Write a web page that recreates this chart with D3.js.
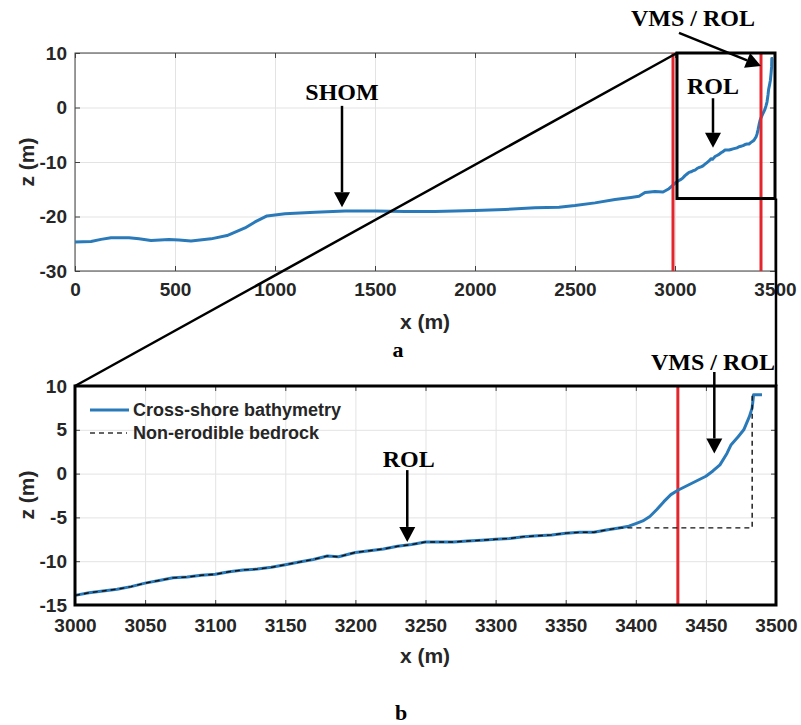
<!DOCTYPE html>
<html>
<head>
<meta charset="utf-8">
<script src="https://cdn.jsdelivr.net/npm/d3@7"></script>
<style>
  body { margin: 0; background: #fff; }
  .tick text { font-family: "Liberation Sans", Arial, sans-serif; font-weight: bold; font-size: 19px; fill: #262626; }
  .grid line { stroke: #e3e3e3; stroke-width: 1; }
  .grid path { display: none; }
</style>
</head>
<body>
<svg id="fig" width="801" height="725"></svg>
<script>
// SHOM profile, offshore part (0 - 3000 m)
var shomX = [0, 80, 130, 180, 270, 320, 380, 470, 520, 580, 680, 760, 850, 900, 960, 1050, 1200, 1350, 1500, 1650, 1800, 2000, 2150, 2300, 2420, 2500, 2600, 2700, 2780, 2820, 2850, 2900, 2940, 2970];
var shomZ = [-24.7, -24.6, -24.2, -23.9, -23.9, -24.1, -24.4, -24.2, -24.3, -24.5, -24.1, -23.5, -22.1, -21.0, -19.9, -19.5, -19.2, -19.0, -19.0, -19.1, -19.1, -18.9, -18.7, -18.4, -18.3, -18.0, -17.5, -16.9, -16.5, -16.3, -15.6, -15.4, -15.5, -14.9];

// ROL / VMS nearshore part (3000 - 3490 m)
var rolX = [3000, 3010, 3020, 3030, 3040, 3050, 3060, 3070, 3080, 3090, 3100, 3110, 3120, 3130, 3140, 3150, 3160, 3170, 3180, 3188, 3195, 3200, 3210, 3220, 3230, 3240, 3250, 3260, 3270, 3280, 3290, 3300, 3310, 3320, 3330, 3340, 3350, 3360, 3370, 3380, 3388, 3395, 3400, 3405, 3410, 3415, 3420, 3425, 3430, 3435, 3440, 3445, 3450, 3455, 3460, 3465, 3468, 3473, 3477, 3481, 3483, 3484, 3490];
var rolZ = [-13.9, -13.6, -13.4, -13.2, -12.9, -12.5, -12.2, -11.9, -11.8, -11.6, -11.5, -11.2, -11.0, -10.9, -10.7, -10.4, -10.1, -9.8, -9.4, -9.5, -9.2, -9.0, -8.8, -8.6, -8.3, -8.1, -7.8, -7.8, -7.8, -7.7, -7.6, -7.5, -7.4, -7.2, -7.1, -7.0, -6.8, -6.7, -6.7, -6.4, -6.2, -6.0, -5.7, -5.4, -4.9, -4.1, -3.2, -2.4, -1.9, -1.5, -1.1, -0.7, -0.3, 0.3, 1.0, 2.3, 3.3, 4.2, 5.0, 6.5, 7.5, 9.0, 9.0];

// non-erodible bedrock: same as profile offshore of bedrockStart, then these points
var bedrockStart = 3388;
var bedrockTailX = [3388, 3483, 3483];
var bedrockTailZ = [-6.2, -6.2, 9.0];

var redLinesTop = [2990, 3430];
var redLinesBottom = [3430];
var zoomBox = {x0: 3010, x1: 3500, z0: -16.7, z1: 10};

var topXTicks = [0, 500, 1000, 1500, 2000, 2500, 3000, 3500];
var topYTicks = [-30, -20, -10, 0, 10];
var botXTicks = [3000, 3050, 3100, 3150, 3200, 3250, 3300, 3350, 3400, 3450, 3500];
var botYTicks = [-15, -10, -5, 0, 5, 10];

var blue = "#2a7ab9", red = "#e3262b";
var fmt = function(d) { return String(d); };

var svg = d3.select("#fig");
svg.append("rect").attr("width", 801).attr("height", 725).attr("fill", "#fff");

var xa = d3.scaleLinear().domain([0, 3500]).range([75, 775]);
var ya = d3.scaleLinear().domain([-30, 10]).range([271, 53]);
var xb = d3.scaleLinear().domain([3000, 3500]).range([75, 776]);
var yb = d3.scaleLinear().domain([-15, 10]).range([605, 386]);

var profile = shomX.map(function(x, i) { return [x, shomZ[i]]; })
  .concat(rolX.map(function(x, i) { return [x, rolZ[i]]; }));
var nearshore = rolX.map(function(x, i) { return [x, rolZ[i]]; });
var bedrock = nearshore.filter(function(d) { return d[0] < bedrockStart; })
  .concat(bedrockTailX.map(function(x, i) { return [x, bedrockTailZ[i]]; }));

function panel(x, y, xt, yt, padX) {
  var g = svg.append("g");
  var x0 = x.range()[0], x1 = x.range()[1], y0 = y.range()[1], y1 = y.range()[0];
  g.append("g").attr("class", "grid").attr("transform", "translate(0," + y1 + ")")
    .call(d3.axisBottom(x).tickValues(xt).tickSize(-(y1 - y0)).tickFormat(""));
  g.append("g").attr("class", "grid").attr("transform", "translate(" + x0 + ",0)")
    .call(d3.axisLeft(y).tickValues(yt).tickSize(-(x1 - x0)).tickFormat(""));
  var ax = g.append("g").attr("class", "ax").attr("transform", "translate(0," + y1 + ")")
    .call(d3.axisBottom(x).tickValues(xt).tickSize(-5).tickPadding(padX).tickFormat(fmt));
  var ay = g.append("g").attr("class", "ax").attr("transform", "translate(" + x0 + ",0)")
    .call(d3.axisLeft(y).tickValues(yt).tickSize(-5).tickPadding(8).tickFormat(fmt));
  // right and top inner ticks
  g.append("g").attr("class", "ax").attr("transform", "translate(" + x1 + ",0)")
    .call(d3.axisRight(y).tickValues(yt).tickSize(-5).tickFormat(""));
  g.append("g").attr("class", "ax").attr("transform", "translate(0," + y0 + ")")
    .call(d3.axisTop(x).tickValues(xt).tickSize(-5).tickFormat(""));
  g.selectAll(".domain").remove();
  g.selectAll(".ax .tick line").attr("stroke", "#404040");
  g.append("rect").attr("x", x0).attr("y", y0).attr("width", x1 - x0).attr("height", y1 - y0)
    .attr("fill", "none").attr("stroke", "#404040").attr("stroke-width", 1);
  return g;
}

// ---------- panel a ----------
var ga = panel(xa, ya, topXTicks, topYTicks, 12);
var lineA = d3.line().x(function(d) { return xa(d[0]); }).y(function(d) { return ya(d[1]); });
ga.append("path").datum(profile).attr("d", lineA)
  .attr("fill", "none").attr("stroke", blue).attr("stroke-width", 3).attr("stroke-linejoin", "round");
ga.selectAll(".red").data(redLinesTop).enter().append("line")
  .attr("x1", xa).attr("x2", xa).attr("y1", ya(10)).attr("y2", ya(-30))
  .attr("stroke", red).attr("stroke-width", 3);

// ---------- panel b ----------
var gb = panel(xb, yb, botXTicks, botYTicks, 14);
var lineB = d3.line().x(function(d) { return xb(d[0]); }).y(function(d) { return yb(d[1]); });
gb.selectAll(".red").data(redLinesBottom).enter().append("line")
  .attr("x1", xb).attr("x2", xb).attr("y1", yb(10)).attr("y2", yb(-15))
  .attr("stroke", red).attr("stroke-width", 3);
gb.append("path").datum(nearshore).attr("d", lineB)
  .attr("fill", "none").attr("stroke", blue).attr("stroke-width", 3).attr("stroke-linejoin", "round");
gb.append("path").datum(bedrock).attr("d", lineB)
  .attr("fill", "none").attr("stroke", "#111").attr("stroke-width", 1.4).attr("stroke-dasharray", "5,4");

// thick frame of panel b
gb.append("rect").attr("x", xb(3000)).attr("y", yb(10)).attr("width", xb(3500) - xb(3000)).attr("height", yb(-15) - yb(10))
  .attr("fill", "none").attr("stroke", "#000").attr("stroke-width", 3);

// zoom box and connectors
svg.append("rect").attr("x", xa(zoomBox.x0)).attr("y", ya(zoomBox.z1))
  .attr("width", xa(zoomBox.x1) - xa(zoomBox.x0)).attr("height", ya(zoomBox.z0) - ya(zoomBox.z1))
  .attr("fill", "none").attr("stroke", "#000").attr("stroke-width", 3);
svg.append("line").attr("x1", xa(zoomBox.x0)).attr("y1", ya(zoomBox.z1)).attr("x2", xb(3000)).attr("y2", yb(10))
  .attr("stroke", "#000").attr("stroke-width", 2.5);
svg.append("line").attr("x1", xa(zoomBox.x1) + 1).attr("y1", ya(zoomBox.z0)).attr("x2", xb(3500)).attr("y2", yb(10))
  .attr("stroke", "#000").attr("stroke-width", 2.5);

// axis labels
function label(txt, x, y, rot) {
  svg.append("text").attr("transform", "translate(" + x + "," + y + ")" + (rot ? " rotate(-90)" : ""))
    .attr("text-anchor", "middle").attr("dominant-baseline", "central")
    .style("font-family", "'Liberation Sans', Arial, sans-serif").style("font-weight", "bold")
    .style("font-size", "21px").style("fill", "#262626").text(txt);
}
label("x (m)", 425, 321, false);
label("z (m)", 26, 162, true);
label("x (m)", 425, 655, false);
label("z (m)", 26, 495, true);

function figLetter(txt, x, y) {
  svg.append("text").attr("x", x).attr("y", y).attr("text-anchor", "middle")
    .style("font-family", "'Liberation Serif', 'Times New Roman', serif").style("font-weight", "bold")
    .style("font-size", "22px").text(txt);
}
figLetter("a", 398, 357);
figLetter("b", 401, 720);

// annotations with arrows
function note(txt, tx, ty) {
  svg.append("text").attr("x", tx).attr("y", ty).attr("text-anchor", "middle").attr("dominant-baseline", "central")
    .style("font-family", "'Liberation Serif', 'Times New Roman', serif").style("font-weight", "bold")
    .style("font-size", "24px").text(txt);
}
function arrow(x1, y1, x2, y2) {
  var a = Math.atan2(y2 - y1, x2 - x1), L = 15, W = 8;
  var bx = x2 - L * Math.cos(a), by = y2 - L * Math.sin(a);
  svg.append("line").attr("x1", x1).attr("y1", y1).attr("x2", bx).attr("y2", by)
    .attr("stroke", "#000").attr("stroke-width", 2.5);
  svg.append("path").attr("d", "M" + x2 + "," + y2 +
      "L" + (bx + W * Math.sin(a)) + "," + (by - W * Math.cos(a)) +
      "L" + (bx - W * Math.sin(a)) + "," + (by + W * Math.cos(a)) + "Z")
    .attr("fill", "#000");
}
note("SHOM", xa(1335), ya(2.8));
arrow(xa(1335), ya(0.3), xa(1335), ya(-18.3));
note("VMS / ROL", xa(3090), ya(16.4));
arrow(xa(3020), ya(13.7), xa(3430), ya(7.6));
note("ROL", xa(3190), ya(4.0));
arrow(xa(3190), ya(1.7), xa(3190), ya(-7.4));

note("ROL", xb(3238), yb(1.7));
arrow(xb(3237), yb(0.4), xb(3237), yb(-7.8));
note("VMS / ROL", xb(3455), yb(12.7));
arrow(xb(3456), yb(11.6), xb(3456), yb(2.3));

// legend
var lg = svg.append("g").style("font-family", "'Liberation Sans', Arial, sans-serif")
  .style("font-weight", "bold").style("font-size", "18px").style("fill", "#262626");
lg.append("line").attr("x1", 90).attr("x2", 129).attr("y1", 410).attr("y2", 410)
  .attr("stroke", blue).attr("stroke-width", 3);
lg.append("text").attr("x", 133).attr("y", 410).attr("dominant-baseline", "central").text("Cross-shore bathymetry");
lg.append("line").attr("x1", 90).attr("x2", 127).attr("y1", 433).attr("y2", 433)
  .attr("stroke", "#333").attr("stroke-width", 1.4).attr("stroke-dasharray", "5,4");
lg.append("text").attr("x", 133).attr("y", 433).attr("dominant-baseline", "central").text("Non-erodible bedrock");
</script>
</body>
</html>
